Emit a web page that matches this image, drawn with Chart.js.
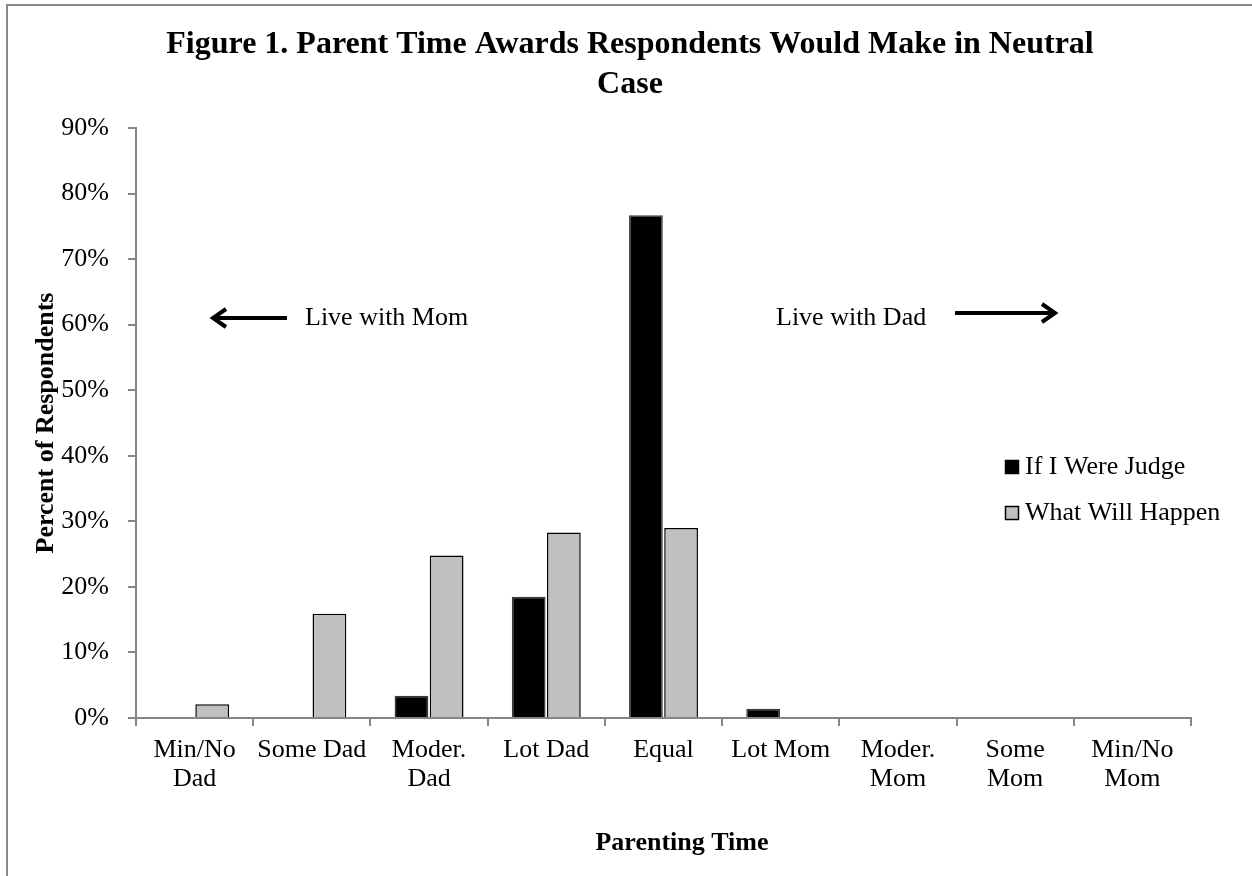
<!DOCTYPE html>
<html>
<head>
<meta charset="utf-8">
<script src="https://cdn.jsdelivr.net/npm/chart.js@4.4.1/dist/chart.umd.min.js"></script>
<style>
    html, body { margin: 0; padding: 0; background: #fff; }
    #wrap { position: relative; width: 1252px; height: 876px; }
    #frame {
        position: absolute; left: 6px; top: 4px; right: 0; bottom: 0;
        border-top: 2px solid #888; border-left: 2px solid #888;
        pointer-events: none;
    }
</style>
</head>
<body>
<div id="wrap">
    <canvas id="chartFigure1"></canvas>
    <div id="frame"></div>
</div>
<script>
    var categories = [
        ['Min/No', 'Dad'], 'Some Dad', ['Moder.', 'Dad'], 'Lot Dad', 'Equal',
        'Lot Mom', ['Moder.', 'Mom'], ['Some', 'Mom'], ['Min/No', 'Mom']
    ];
    var judgeValues = [0, 0, 3.4, 18.5, 76.7, 1.4, 0, 0, 0];
    var happenValues = [2.1, 15.9, 24.8, 28.3, 29.0, 0, 0, 0, 0];
    var yTicks = [0, 10, 20, 30, 40, 50, 60, 70, 80, 90];
    var seriesNames = ['If I Were Judge', 'What Will Happen'];
    var titleLines = ['Figure 1. Parent Time Awards Respondents Would Make in Neutral', 'Case'];
    var xTitle = 'Parenting Time';

    var serif = '"Liberation Serif", "Times New Roman", serif';
    var axisGray = '#868686';

    function arrow(ctx, x1, x2, y) {
        // shaft from x1 to tip x2
        var dir = x2 > x1 ? 1 : -1;
        ctx.save();
        ctx.strokeStyle = '#000';
        ctx.lineWidth = 4;
        ctx.lineCap = 'butt';
        ctx.beginPath();
        ctx.moveTo(x1, y);
        ctx.lineTo(x2 - dir * 2, y);
        ctx.stroke();
        ctx.lineJoin = 'miter';
        ctx.beginPath();
        ctx.moveTo(x2 - dir * 13, y - 9);
        ctx.lineTo(x2, y);
        ctx.lineTo(x2 - dir * 13, y + 9);
        ctx.stroke();
        ctx.restore();
    }

    var extrasPlugin = {
        id: 'extras',
        afterDraw: function (chart) {
            var ctx = chart.ctx;
            ctx.save();
            ctx.fillStyle = '#000';
            ctx.textBaseline = 'middle';

            // title
            ctx.font = 'bold 32px ' + serif;
            ctx.textAlign = 'center';
            ctx.fillText(titleLines[0], 630, 45);
            ctx.fillText(titleLines[1], 630, 85);

            // x axis title (Excel centres it a bit right of the plot)
            ctx.font = 'bold 26px ' + serif;
            ctx.fillText(xTitle, 682, 843);

            // direction notes
            ctx.font = '26px ' + serif;
            ctx.textAlign = 'left';
            arrow(ctx, 287, 213, 318);
            ctx.fillText('Live with Mom', 305, 318);
            ctx.fillText('Live with Dad', 776, 318);
            arrow(ctx, 955, 1055, 313);

            // legend
            var colors = chart.data.datasets.map(function (d) { return d.backgroundColor; });
            var rows = [467, 513];
            for (var i = 0; i < seriesNames.length; i++) {
                ctx.fillStyle = colors[i];
                ctx.fillRect(1005, rows[i] - 7, 14, 14);
                ctx.strokeStyle = '#000';
                ctx.lineWidth = 1.5;
                ctx.strokeRect(1005.5, rows[i] - 6.5, 13, 13);
                ctx.fillStyle = '#000';
                ctx.fillText(seriesNames[i], 1025, rows[i]);
            }
            ctx.restore();
        }
    };

    Chart.defaults.font.family = serif;
    Chart.defaults.color = '#000';

    var el = document.getElementById('chartFigure1');
    new Chart(el, {
        type: 'bar',
        data: {
            labels: categories,
            datasets: [{
                label: seriesNames[0],
                data: judgeValues,
                backgroundColor: '#000000',
                borderColor: '#3a3a3a',
                borderWidth: 1.5
            }, {
                label: seriesNames[1],
                data: happenValues,
                backgroundColor: '#c0c0c0',
                borderColor: '#000000',
                borderWidth: 1.5
            }]
        },
        options: {
            responsive: true,
            maintainAspectRatio: false,
            animation: false,
            categoryPercentage: 0.6,
            barPercentage: 0.96,
            layout: { padding: { left: 10, right: 61, top: 128, bottom: 0 } },
            scales: {
                x: {
                    grid: { drawOnChartArea: false, drawTicks: true, tickLength: 8, color: axisGray, lineWidth: 2 },
                    border: { display: true, color: axisGray, width: 2 },
                    ticks: { font: { size: 26, lineHeight: 1.1 }, padding: 10, maxRotation: 0, autoSkip: false },
                    title: { display: false },
                    afterFit: function (scale) { scale.height = 158; }
                },
                y: {
                    min: 0,
                    max: 90,
                    afterBuildTicks: function (scale) {
                        scale.ticks = yTicks.map(function (v) { return { value: v }; });
                    },
                    grid: { drawOnChartArea: false, drawTicks: true, tickLength: 8, color: axisGray, lineWidth: 2 },
                    border: { display: true, color: axisGray, width: 2 },
                    ticks: {
                        font: { size: 26 },
                        padding: 19,
                        callback: function (v) { return v + '%'; }
                    },
                    title: {
                        display: true, text: 'Percent of Respondents',
                        font: { size: 26, weight: 'bold', lineHeight: 1.2 },
                        padding: { top: 21, bottom: 0 }
                    },
                    afterFit: function (scale) { scale.width = 126; }
                }
            },
            plugins: {
                legend: { display: false },
                title: { display: false },
                tooltip: { enabled: false }
            }
        },
        plugins: [extrasPlugin]
    });
</script>
</body>
</html>
